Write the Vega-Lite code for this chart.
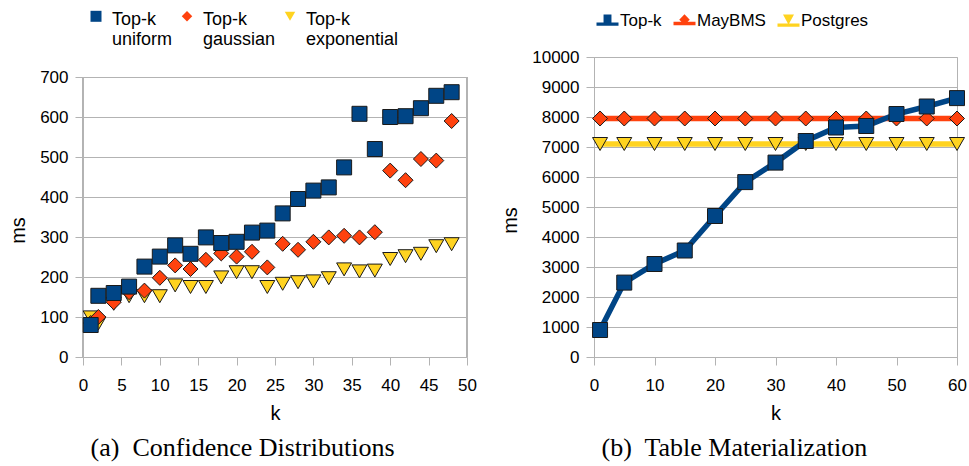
{
  "$schema": "https://vega.github.io/schema/vega-lite/v6.json",
  "background": "white",
  "padding": {"left": 8, "top": 0, "right": 2, "bottom": 0},
  "spacing": 23,
  "datasets": {
    "conf": [
      {"series": "Top-k exponential", "k": 1, "ms": 99},
      {"series": "Top-k exponential", "k": 2, "ms": 84},
      {"series": "Top-k exponential", "k": 4, "ms": 133},
      {"series": "Top-k exponential", "k": 6, "ms": 152},
      {"series": "Top-k exponential", "k": 8, "ms": 152},
      {"series": "Top-k exponential", "k": 10, "ms": 152},
      {"series": "Top-k exponential", "k": 12, "ms": 179},
      {"series": "Top-k exponential", "k": 14, "ms": 175},
      {"series": "Top-k exponential", "k": 16, "ms": 175},
      {"series": "Top-k exponential", "k": 18, "ms": 199},
      {"series": "Top-k exponential", "k": 20, "ms": 212},
      {"series": "Top-k exponential", "k": 22, "ms": 212},
      {"series": "Top-k exponential", "k": 24, "ms": 175},
      {"series": "Top-k exponential", "k": 26, "ms": 183},
      {"series": "Top-k exponential", "k": 28, "ms": 187},
      {"series": "Top-k exponential", "k": 30, "ms": 189},
      {"series": "Top-k exponential", "k": 32, "ms": 197},
      {"series": "Top-k exponential", "k": 34, "ms": 219},
      {"series": "Top-k exponential", "k": 36, "ms": 214},
      {"series": "Top-k exponential", "k": 38, "ms": 216},
      {"series": "Top-k exponential", "k": 40, "ms": 245},
      {"series": "Top-k exponential", "k": 42, "ms": 252},
      {"series": "Top-k exponential", "k": 44, "ms": 258},
      {"series": "Top-k exponential", "k": 46, "ms": 277},
      {"series": "Top-k exponential", "k": 48, "ms": 282},
      {"series": "Top-k gaussian", "k": 1, "ms": 85},
      {"series": "Top-k gaussian", "k": 2, "ms": 100},
      {"series": "Top-k gaussian", "k": 4, "ms": 137},
      {"series": "Top-k gaussian", "k": 6, "ms": 162},
      {"series": "Top-k gaussian", "k": 8, "ms": 166},
      {"series": "Top-k gaussian", "k": 10, "ms": 198},
      {"series": "Top-k gaussian", "k": 12, "ms": 229},
      {"series": "Top-k gaussian", "k": 14, "ms": 220},
      {"series": "Top-k gaussian", "k": 16, "ms": 243},
      {"series": "Top-k gaussian", "k": 18, "ms": 259},
      {"series": "Top-k gaussian", "k": 20, "ms": 251},
      {"series": "Top-k gaussian", "k": 22, "ms": 263},
      {"series": "Top-k gaussian", "k": 24, "ms": 224},
      {"series": "Top-k gaussian", "k": 26, "ms": 283},
      {"series": "Top-k gaussian", "k": 28, "ms": 268},
      {"series": "Top-k gaussian", "k": 30, "ms": 288},
      {"series": "Top-k gaussian", "k": 32, "ms": 299},
      {"series": "Top-k gaussian", "k": 34, "ms": 303},
      {"series": "Top-k gaussian", "k": 36, "ms": 299},
      {"series": "Top-k gaussian", "k": 38, "ms": 312},
      {"series": "Top-k gaussian", "k": 40, "ms": 466},
      {"series": "Top-k gaussian", "k": 42, "ms": 442},
      {"series": "Top-k gaussian", "k": 44, "ms": 495},
      {"series": "Top-k gaussian", "k": 46, "ms": 491},
      {"series": "Top-k gaussian", "k": 48, "ms": 590},
      {"series": "Top-k uniform", "k": 1, "ms": 80},
      {"series": "Top-k uniform", "k": 2, "ms": 153},
      {"series": "Top-k uniform", "k": 4, "ms": 160},
      {"series": "Top-k uniform", "k": 6, "ms": 176},
      {"series": "Top-k uniform", "k": 8, "ms": 226},
      {"series": "Top-k uniform", "k": 10, "ms": 251},
      {"series": "Top-k uniform", "k": 12, "ms": 279},
      {"series": "Top-k uniform", "k": 14, "ms": 258},
      {"series": "Top-k uniform", "k": 16, "ms": 299},
      {"series": "Top-k uniform", "k": 18, "ms": 285},
      {"series": "Top-k uniform", "k": 20, "ms": 288},
      {"series": "Top-k uniform", "k": 22, "ms": 311},
      {"series": "Top-k uniform", "k": 24, "ms": 316},
      {"series": "Top-k uniform", "k": 26, "ms": 359},
      {"series": "Top-k uniform", "k": 28, "ms": 395},
      {"series": "Top-k uniform", "k": 30, "ms": 416},
      {"series": "Top-k uniform", "k": 32, "ms": 424},
      {"series": "Top-k uniform", "k": 34, "ms": 474},
      {"series": "Top-k uniform", "k": 36, "ms": 608},
      {"series": "Top-k uniform", "k": 38, "ms": 520},
      {"series": "Top-k uniform", "k": 40, "ms": 600},
      {"series": "Top-k uniform", "k": 42, "ms": 602},
      {"series": "Top-k uniform", "k": 44, "ms": 622},
      {"series": "Top-k uniform", "k": 46, "ms": 653},
      {"series": "Top-k uniform", "k": 48, "ms": 662}
    ],
    "mat": [
      {"series": "Postgres", "k": 1, "ms": 7100},
      {"series": "Postgres", "k": 5, "ms": 7100},
      {"series": "Postgres", "k": 10, "ms": 7100},
      {"series": "Postgres", "k": 15, "ms": 7100},
      {"series": "Postgres", "k": 20, "ms": 7100},
      {"series": "Postgres", "k": 25, "ms": 7100},
      {"series": "Postgres", "k": 30, "ms": 7100},
      {"series": "Postgres", "k": 35, "ms": 7100},
      {"series": "Postgres", "k": 40, "ms": 7100},
      {"series": "Postgres", "k": 45, "ms": 7100},
      {"series": "Postgres", "k": 50, "ms": 7100},
      {"series": "Postgres", "k": 55, "ms": 7100},
      {"series": "Postgres", "k": 60, "ms": 7100},
      {"series": "MayBMS", "k": 1, "ms": 7950},
      {"series": "MayBMS", "k": 5, "ms": 7950},
      {"series": "MayBMS", "k": 10, "ms": 7950},
      {"series": "MayBMS", "k": 15, "ms": 7950},
      {"series": "MayBMS", "k": 20, "ms": 7950},
      {"series": "MayBMS", "k": 25, "ms": 7950},
      {"series": "MayBMS", "k": 30, "ms": 7950},
      {"series": "MayBMS", "k": 35, "ms": 7950},
      {"series": "MayBMS", "k": 40, "ms": 7950},
      {"series": "MayBMS", "k": 45, "ms": 7950},
      {"series": "MayBMS", "k": 50, "ms": 7950},
      {"series": "MayBMS", "k": 55, "ms": 7950},
      {"series": "MayBMS", "k": 60, "ms": 7950},
      {"series": "Top-k", "k": 1, "ms": 900},
      {"series": "Top-k", "k": 5, "ms": 2480},
      {"series": "Top-k", "k": 10, "ms": 3100},
      {"series": "Top-k", "k": 15, "ms": 3550},
      {"series": "Top-k", "k": 20, "ms": 4700},
      {"series": "Top-k", "k": 25, "ms": 5830},
      {"series": "Top-k", "k": 30, "ms": 6480},
      {"series": "Top-k", "k": 35, "ms": 7200},
      {"series": "Top-k", "k": 40, "ms": 7650},
      {"series": "Top-k", "k": 45, "ms": 7700},
      {"series": "Top-k", "k": 50, "ms": 8100},
      {"series": "Top-k", "k": 55, "ms": 8350},
      {"series": "Top-k", "k": 60, "ms": 8630}
    ]
  },
  "hconcat": [
    {
      "width": 384,
      "height": 300,
      "view": {"stroke": null},
      "title": {"text": "(a)\u00a0 Confidence Distributions", "orient": "bottom", "anchor": "middle", "frame": "bounds", "font": "Liberation Serif", "fontSize": 26, "fontWeight": "normal", "color": "#000000", "offset": 12},
      "data": {"name": "conf"},
      "layer": [
        {
          "mark": {"type": "rule", "color": "#b3b3b3", "strokeWidth": 1},
          "encoding": {
            "x": {"datum": 0, "type": "quantitative", "scale": {"domain": [0, 50], "nice": false, "zero": false},
                  "axis": {"values": [0, 5, 10, 15, 20, 25, 30, 35, 40, 45, 50], "format": "d", "grid": false, "title": "k", "labelPadding": 12, "titlePadding": 10, "labelOverlap": false, "labelFlush": false}},
            "y": {"datum": 0, "type": "quantitative", "scale": {"domain": [0, 750], "nice": false},
                  "axis": {"values": [0, 100, 200, 300, 400, 500, 600, 700], "format": "d", "grid": true, "domain": false, "title": "ms", "titlePadding": 11, "titleY": 173, "labelOverlap": false, "labelFlush": false}},
            "y2": {"datum": 700}
          }
        },
        {
          "mark": {"type": "rule", "color": "#b3b3b3", "strokeWidth": 1},
          "encoding": {
            "x": {"datum": 50, "type": "quantitative", "scale": {"domain": [0, 50], "nice": false, "zero": false},
                  "axis": {"values": [0, 5, 10, 15, 20, 25, 30, 35, 40, 45, 50], "format": "d", "grid": false, "title": "k", "labelPadding": 12, "titlePadding": 10, "labelOverlap": false, "labelFlush": false}},
            "y": {"datum": 0, "type": "quantitative", "scale": {"domain": [0, 750], "nice": false},
                  "axis": {"values": [0, 100, 200, 300, 400, 500, 600, 700], "format": "d", "grid": true, "domain": false, "title": "ms", "titlePadding": 11, "titleY": 173, "labelOverlap": false, "labelFlush": false}},
            "y2": {"datum": 700}
          }
        },
        {
          "mark": {"type": "point", "filled": true, "opacity": 1, "size": 225, "stroke": "#1a1a1a", "strokeWidth": 1},
          "encoding": {
            "x": {"field": "k", "type": "quantitative", "scale": {"domain": [0, 50], "nice": false, "zero": false},
                  "axis": {"values": [0, 5, 10, 15, 20, 25, 30, 35, 40, 45, 50], "format": "d", "grid": false, "title": "k", "labelPadding": 12, "titlePadding": 10, "labelOverlap": false, "labelFlush": false}},
            "y": {"field": "ms", "type": "quantitative", "scale": {"domain": [0, 750], "nice": false},
                  "axis": {"values": [0, 100, 200, 300, 400, 500, 600, 700], "format": "d", "grid": true, "domain": false, "title": "ms", "titlePadding": 11, "titleY": 173, "labelOverlap": false, "labelFlush": false}},
            "color": {"field": "series", "type": "nominal", "scale": {"domain": ["Top-k uniform", "Top-k gaussian", "Top-k exponential"], "range": ["#004586", "#ff420e", "#ffd320"]}, "legend": null},
            "shape": {"field": "series", "type": "nominal", "scale": {"domain": ["Top-k uniform", "Top-k gaussian", "Top-k exponential"], "range": ["square", "diamond", "triangle-down"]}, "legend": null}
          }
        },
        {
          "transform": [{"filter": "false"}],
          "mark": {"type": "point", "filled": true, "opacity": 1, "stroke": "#1a1a1a", "strokeWidth": 1},
          "encoding": {
            "x": {"field": "k", "type": "quantitative", "scale": {"domain": [0, 50], "nice": false, "zero": false},
                  "axis": {"values": [0, 5, 10, 15, 20, 25, 30, 35, 40, 45, 50], "format": "d", "grid": false, "title": "k", "labelPadding": 12, "titlePadding": 10, "labelOverlap": false, "labelFlush": false}},
            "y": {"field": "ms", "type": "quantitative", "scale": {"domain": [0, 750], "nice": false},
                  "axis": {"values": [0, 100, 200, 300, 400, 500, 600, 700], "format": "d", "grid": true, "domain": false, "title": "ms", "titlePadding": 11, "titleY": 173, "labelOverlap": false, "labelFlush": false}},
            "color": {"field": "series", "type": "nominal", "scale": {"domain": ["Top-k uniform", "Top-k gaussian", "Top-k exponential"], "range": ["#004586", "#ff420e", "#ffd320"]},
                      "legend": {"orient": "top", "offset": 6, "padding": 2, "direction": "horizontal", "columns": 3, "title": null, "labelExpr": "split(datum.label, ' ')", "labelFont": "Liberation Sans", "labelFontSize": 18, "labelColor": "#000000", "labelBaseline": "top", "symbolOffset": 2, "labelOffset": 7, "columnPadding": 3, "symbolSize": 100, "symbolStrokeColor": "#1a1a1a", "symbolStrokeWidth": 1, "symbolOpacity": 1, "labelLimit": 300}},
            "shape": {"field": "series", "type": "nominal", "scale": {"domain": ["Top-k uniform", "Top-k gaussian", "Top-k exponential"], "range": ["M-1.1,-0.04H1.1V2.16H-1.1Z", "M0,0.01L1.05,1.06L0,2.11L-1.05,1.06Z", "M-1.05,0.16H1.05L0,1.96Z"]},
                      "legend": {"orient": "top", "offset": 6, "padding": 2, "direction": "horizontal", "columns": 3, "title": null, "labelExpr": "split(datum.label, ' ')", "labelFont": "Liberation Sans", "labelFontSize": 18, "labelColor": "#000000", "labelBaseline": "top", "symbolOffset": 2, "labelOffset": 7, "columnPadding": 3, "symbolSize": 100, "symbolStrokeColor": "#1a1a1a", "symbolStrokeWidth": 1, "symbolOpacity": 1, "labelLimit": 300}}
          }
        }
      ],
      "resolve": {"scale": {"color": "independent", "shape": "independent"}}
    },
    {
      "width": 363,
      "height": 300,
      "title": {"text": "(b)\u00a0 Table Materialization", "orient": "bottom", "anchor": "middle", "frame": "bounds", "font": "Liberation Serif", "fontSize": 26, "fontWeight": "normal", "color": "#000000", "offset": 12},
      "data": {"name": "mat"},
      "layer": [
        {
          "mark": {"type": "line", "strokeWidth": 5.5},
          "encoding": {
            "x": {"field": "k", "type": "quantitative", "scale": {"domain": [0, 60], "nice": false, "zero": false},
                  "axis": {"values": [0, 10, 20, 30, 40, 50, 60], "format": "d", "grid": false, "title": "k", "labelPadding": 12, "titlePadding": 10, "labelOverlap": false, "labelFlush": false}},
            "y": {"field": "ms", "type": "quantitative", "scale": {"domain": [0, 10000], "nice": false},
                  "axis": {"values": [0, 1000, 2000, 3000, 4000, 5000, 6000, 7000, 8000, 9000, 10000], "format": "d", "grid": true, "title": "ms", "titlePadding": 11, "titleY": 163, "labelOverlap": false, "labelFlush": false}},
            "color": {"field": "series", "type": "nominal", "scale": {"domain": ["Top-k", "MayBMS", "Postgres"], "range": ["#004586", "#ff420e", "#ffd320"]}, "legend": null}
          }
        },
        {
          "mark": {"type": "point", "filled": true, "opacity": 1, "size": 225, "stroke": "#1a1a1a", "strokeWidth": 1},
          "encoding": {
            "x": {"field": "k", "type": "quantitative", "scale": {"domain": [0, 60], "nice": false, "zero": false},
                  "axis": {"values": [0, 10, 20, 30, 40, 50, 60], "format": "d", "grid": false, "title": "k", "labelPadding": 12, "titlePadding": 10, "labelOverlap": false, "labelFlush": false}},
            "y": {"field": "ms", "type": "quantitative", "scale": {"domain": [0, 10000], "nice": false},
                  "axis": {"values": [0, 1000, 2000, 3000, 4000, 5000, 6000, 7000, 8000, 9000, 10000], "format": "d", "grid": true, "title": "ms", "titlePadding": 11, "titleY": 163, "labelOverlap": false, "labelFlush": false}},
            "color": {"field": "series", "type": "nominal", "scale": {"domain": ["Top-k", "MayBMS", "Postgres"], "range": ["#004586", "#ff420e", "#ffd320"]}, "legend": null},
            "shape": {"field": "series", "type": "nominal", "scale": {"domain": ["Top-k", "MayBMS", "Postgres"], "range": ["square", "diamond", "triangle-down"]}, "legend": null}
          }
        },
        {
          "transform": [{"filter": "false"}],
          "mark": {"type": "point", "filled": true, "opacity": 1, "stroke": "#1a1a1a", "strokeWidth": 0.7},
          "encoding": {
            "x": {"field": "k", "type": "quantitative", "scale": {"domain": [0, 60], "nice": false, "zero": false},
                  "axis": {"values": [0, 10, 20, 30, 40, 50, 60], "format": "d", "grid": false, "title": "k", "labelPadding": 12, "titlePadding": 10, "labelOverlap": false, "labelFlush": false}},
            "y": {"field": "ms", "type": "quantitative", "scale": {"domain": [0, 10000], "nice": false},
                  "axis": {"values": [0, 1000, 2000, 3000, 4000, 5000, 6000, 7000, 8000, 9000, 10000], "format": "d", "grid": true, "title": "ms", "titlePadding": 11, "titleY": 163, "labelOverlap": false, "labelFlush": false}},
            "color": {"field": "series", "type": "nominal", "scale": {"domain": ["Top-k", "MayBMS", "Postgres"], "range": ["#004586", "#ff420e", "#ffd320"]},
                      "legend": {"orient": "top", "offset": 26, "padding": 2, "direction": "horizontal", "columns": 3, "title": null, "labelFont": "Liberation Sans", "labelFontSize": 17, "labelColor": "#000000", "symbolOffset": 0, "labelOffset": 1, "columnPadding": 10, "symbolSize": 484, "symbolStrokeColor": "#1a1a1a", "symbolStrokeWidth": 0.7, "symbolOpacity": 1}},
            "shape": {"field": "series", "type": "nominal", "scale": {"domain": ["Top-k", "MayBMS", "Postgres"], "range": ["M-1,0.15H-0.36V-0.56H0.36V0.15H1V0.45H-1Z", "M-1,0.1H-0.28L-0.48,-0.1L0,-0.58L0.48,-0.1L0.28,0.1H1V0.4H-1Z", "M-1,0.24H-0.055L-0.5,-0.57H0.5L0.055,0.24H1V0.54H-1Z"]},
                      "legend": {"orient": "top", "offset": 26, "padding": 2, "direction": "horizontal", "columns": 3, "title": null, "labelFont": "Liberation Sans", "labelFontSize": 17, "labelColor": "#000000", "symbolOffset": 0, "labelOffset": 1, "columnPadding": 10, "symbolSize": 484, "symbolStrokeColor": "#1a1a1a", "symbolStrokeWidth": 0.7, "symbolOpacity": 1}}
          }
        }
      ],
      "resolve": {"scale": {"color": "independent", "shape": "independent"}}
    }
  ],
  "resolve": {"scale": {"color": "independent", "shape": "independent"}},
  "config": {
    "font": "Liberation Sans",
    "view": {"stroke": "#b3b3b3", "strokeWidth": 1},
    "axis": {"labelFont": "Liberation Sans", "labelFontSize": 17, "labelColor": "#000000", "titleFont": "Liberation Sans", "titleFontSize": 20, "titleFontWeight": "normal", "titleColor": "#000000", "domainColor": "#b3b3b3", "tickColor": "#b3b3b3", "gridColor": "#b3b3b3", "gridOpacity": 1, "tickSize": 8, "labelPadding": 7, "labelOverlap": false, "labelFlush": false}
  }
}
